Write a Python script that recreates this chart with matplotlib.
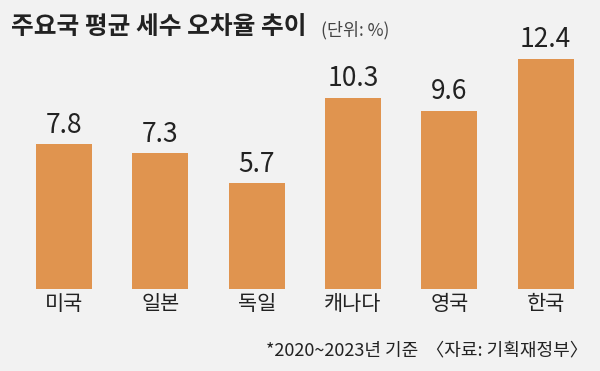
import matplotlib
matplotlib.use("Agg")
import matplotlib.pyplot as plt

plt.rcParams['font.family'] = ['Noto Sans CJK KR', 'DejaVu Sans']

countries = ['미국', '일본', '독일', '캐나다', '영국', '한국']
error_rates = [7.8, 7.3, 5.7, 10.3, 9.6, 12.4]

bg = '#f2f2f2'
bar_color = '#e0944f'

fig = plt.figure(figsize=(6, 3.71), dpi=100, facecolor=bg)
ax = fig.add_axes([15.8 / 600, 82 / 371, 578 / 600, 260 / 371])
ax.set_facecolor(bg)

x = range(len(countries))
bars = ax.bar(x, error_rates, width=0.58, color=bar_color)
for xi, v in zip(x, error_rates):
    ax.text(xi, v + 0.3, f'{v}', ha='center', va='bottom', fontsize=19, color='#222222')

ax.set_xlim(-0.5, 5.5)
ax.set_ylim(0, 14)
ax.set_xticks(list(x))
ax.set_xticklabels(countries, fontsize=15, color='#222222')
ax.tick_params(axis='x', length=0, pad=3)
ax.set_yticks([])
for s in ax.spines.values():
    s.set_visible(False)

fig.text(11 / 600, 1 - 27 / 371, '주요국 평균 세수 오차율 추이', fontsize=17.8, fontweight='black',
         color='#222222', va='center', ha='left')
fig.text(321 / 600, 1 - 30 / 371, '(단위: %)', fontsize=12.5, color='#444444', va='center', ha='left')
fig.text(588 / 600, 1 - 350 / 371, '*2020~2023년 기준  〈자료: 기획재정부〉', fontsize=13,
         color='#222222', va='center', ha='right')

fig.savefig('out.png', dpi=100, facecolor=bg)
